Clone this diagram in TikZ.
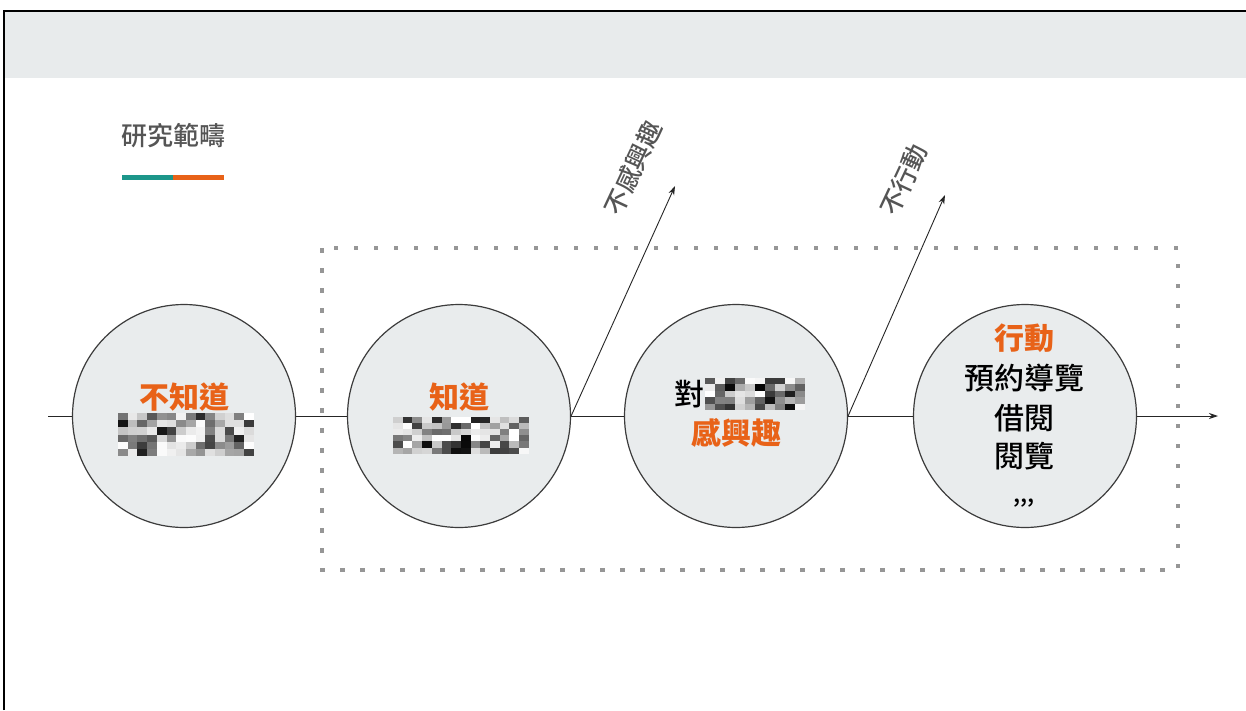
\documentclass[tikz,border=0pt]{standalone}
\usepackage{fontspec}
\newfontfamily\cjk{Noto Sans CJK TC}
\newfontfamily\cjkm{Noto Sans CJK TC Medium}
\usetikzlibrary{arrows.meta}
\definecolor{band}{RGB}{232,235,236}
\definecolor{cfill}{RGB}{233,236,237}
\definecolor{cline}{RGB}{60,60,60}
\definecolor{orng}{RGB}{232,98,24}
\definecolor{teal}{RGB}{28,150,138}
\definecolor{dotg}{RGB}{150,150,150}
\definecolor{txtg}{RGB}{85,85,85}
\newcommand\mosaicblock[6]{%
  \foreach \ci in {1,...,#3}{\foreach \cj in {1,...,#4}{%
    \pgfmathsetmacro\gv{int(100*rnd^1.4)}%
    \fill[black!\gv!white] ({#1+(\ci-1)*#5},{#2+(\cj-1)*#6}) rectangle ++(#5,#6);}}}
\begin{document}
\begin{tikzpicture}[x=1pt,y=-1pt,
  stage/.style={circle,draw=cline,fill=cfill,line width=1.2pt,minimum size=223pt,inner sep=0pt},
  otext/.style={font=\cjk\bfseries\fontsize{30}{34}\selectfont,text=orng,inner sep=0pt},
  btext/.style={font=\cjkm\fontsize{30}{34}\selectfont,text=black,inner sep=0pt},
  rtext/.style={font=\cjkm\fontsize{25}{28}\selectfont,text=txtg,rotate=65,inner sep=0pt},
  flow/.style={line width=0.9pt,draw=black!85},
  tip/.style={-{Stealth[length=9pt,width=6pt]}}]
\useasboundingbox (0,0) rectangle (1246,710);
\fill[white] (0,0) rectangle (1246,710);
\fill[band] (4,12) rectangle (1246,78);
\draw[black,line width=2pt] (4,710) -- (4,11) -- (1246,11);
% legend
\node[font=\cjkm\fontsize{26}{30}\selectfont,text=txtg,anchor=west,inner sep=0pt] (legend) at (121,136) {研究範疇};
\draw[teal,line width=5pt] (122,177) -- (173,177);
\draw[orng,line width=5pt] (173,177) -- (224,177);
% dotted box
\draw[dotg,line width=4.5pt,dash pattern=on 4.5pt off 15.5pt] (322,248) rectangle (1178,570);
% circles
\node[stage] (c1) at (184,416) {};
\node[stage] (c2) at (459,416) {};
\node[stage] (c3) at (736,416) {};
\node[stage] (c4) at (1025,416) {};
\coordinate (start) at (48,416);
\coordinate (finish) at (1218,416);
\draw[flow] (start) -- (c1.west);
\draw[flow] (c1.east) -- (c2.west);
\draw[flow] (c2.east) -- (c3.west);
\draw[flow] (c3.east) -- (c4.west);
\draw[flow,tip] (c4.east) -- (finish);
\coordinate (up1) at (675,186);
\coordinate (up2) at (945,195);
\draw[flow,tip] (c2.east) -- (up1);
\draw[flow,tip] (c3.east) -- (up2);
\node[rtext] (r1) at (633,168) {不感興趣};
\node[rtext] (r2) at (904,180) {不行動};
% texts
\node[otext] (t1) at (184,397) {不知道};
\pgfmathsetseed{11}
\mosaicblock{118}{413}{14}{6}{9.7}{7.2}
\node[otext] (t2) at (459,397) {知道};
\mosaicblock{393}{417}{14}{6}{9.7}{6.1}
\node[btext,anchor=east] (t3a) at (705,394) {對};
\mosaicblock{705}{378}{10}{5}{10}{6.4}
\node[otext] (t3b) at (736,433) {感興趣};
\node[otext] (t4a) at (1024,338) {行動};
\node[btext] (t4b) at (1024,378) {預約導覽};
\node[btext] (t4c) at (1024,418) {借閱};
\node[btext] (t4d) at (1024,456) {閱覽};
\node[btext,font=\cjkm\fontsize{24}{28}\selectfont] (t4e) at (1024,503) {,,,};
\end{tikzpicture}
\end{document}
